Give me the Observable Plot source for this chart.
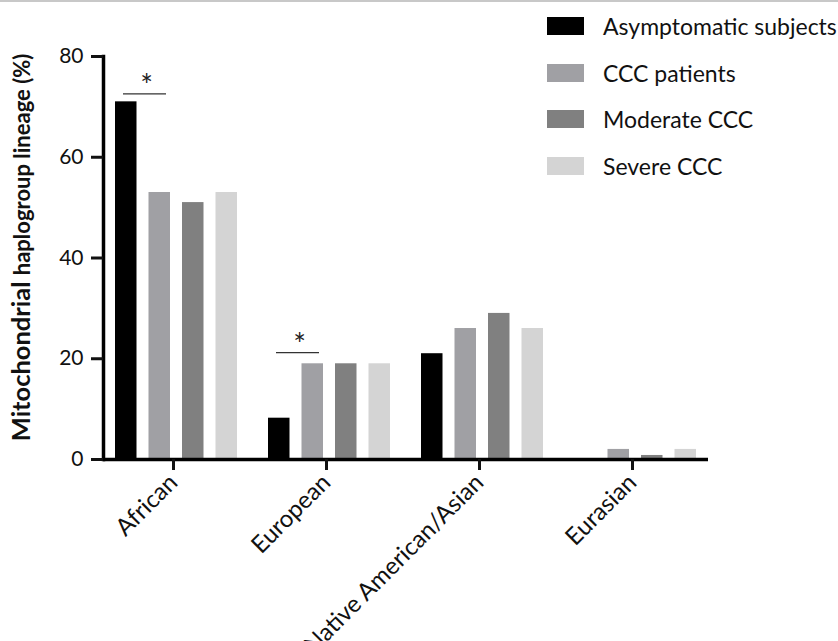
<!DOCTYPE html>
<html><head><meta charset="utf-8">
<script src="https://cdn.jsdelivr.net/npm/d3@7"></script>
<script src="https://cdn.jsdelivr.net/npm/@observablehq/plot@0.6"></script>
<style>
body{margin:0;background:#fff;font-family:Lato, sans-serif;}
#wrap{position:relative;width:838px;height:641px;overflow:hidden;}
#topline{position:absolute;left:0;top:0;width:838px;height:2px;background:#c8c8c8;}
#legend{position:absolute;left:547px;top:17px;}
.row{display:flex;align-items:center;height:18px;margin-bottom:28.7px;}
.sw{width:37px;height:18px;margin-right:19px;flex:none;}
.lab{font-size:23px;color:#111;white-space:nowrap;line-height:18px;}
#chart{position:absolute;left:0;top:0;}
</style></head><body><div id="wrap"><div id="chart"></div><div id="topline"></div><div id="legend"></div></div>
<script>
const categories = ["African", "European", "Native American/Asian", "Eurasian"];
const series = ["Asymptomatic subjects", "CCC patients", "Moderate CCC", "Severe CCC"];
const asymptomatic = [71, 8.2, 21, 0];
const cccPatients = [53, 19, 26, 2];
const moderateCCC = [51, 19, 29, 0.8];
const severeCCC = [53, 19, 26, 2];
const colors = ["#000000", "#a0a0a4", "#808080", "#d4d4d4"];
const yTicks = [0, 20, 40, 60, 80];
const sigCategories = ["African", "European"];
const sigLevels = [72.6, 21.2];
const sigLabels = ["*", "*"];
const yTitleMain = "Mitochondrial ";
const yTitleRest = "haplogroup lineage (%)";

const seriesValues = [asymptomatic, cccPatients, moderateCCC, severeCCC];
const rows = series.flatMap((s, i) => categories.map((c, j) => ({series: s, cat: c, value: seriesValues[i][j]})));
const sig = sigCategories.map((c, i) => ({cat: c, y: sigLevels[i], label: sigLabels[i]}));

const barW = 21.5, barStep = 33.5, groupW = 122;

const plot = Plot.plot({
  width: 838, height: 641,
  marginTop: 56, marginBottom: 182, marginLeft: 103, marginRight: 130,
  style: {fontFamily: "Lato, sans-serif", color: "#111", background: "transparent", overflow: "visible"},
  x: {type: "band", domain: categories, paddingInner: 0.204, paddingOuter: 0.075, label: null},
  y: {domain: [0, 80], label: null},
  marks: [
    ...series.map((s, i) => Plot.barY(rows.filter(d => d.series === s), {
      x: "cat", y: "value", fill: colors[i],
      insetLeft: barStep * i, insetRight: groupW - barW - barStep * i
    })),
    Plot.ruleY([0], {stroke: "#000", strokeWidth: 3.5}),
    Plot.frame({anchor: "left", stroke: "#000", strokeWidth: 3.5}),
    Plot.axisY({ticks: yTicks, tickSize: 12, tickPadding: 8, strokeWidth: 3, fontSize: 21, label: null}),
    Plot.axisX({tickSize: 11, strokeWidth: 3, tickRotate: -45, fontSize: 24, tickPadding: 8, dx: -3, label: null}),
    Plot.ruleY(sig, {x1: "cat", x2: "cat", y: "y", insetLeft: 8, insetRight: 71, stroke: "#333", strokeWidth: 1.2}),
    Plot.text(sig, {x: "cat", y: "y", text: "label", dx: -30, dy: -7, fontSize: 30, fill: "#222"})
  ]
});

const yS = plot.scale("y");
const cy = (yS.apply(0) + yS.apply(80)) / 2 - 10;
const t = d3.select(plot).append("text")
  .attr("transform", `translate(30,${cy}) rotate(-90)`)
  .attr("text-anchor", "middle")
  .attr("font-weight", "bold")
  .attr("font-family", "Lato, sans-serif")
  .attr("fill", "#111");
t.append("tspan").attr("font-size", 25.5).text(yTitleMain);
t.append("tspan").attr("font-size", 22).text(yTitleRest);

document.getElementById("chart").appendChild(plot);

const legend = d3.select("#legend");
series.forEach((s, i) => {
  const row = legend.append("div").attr("class", "row");
  row.append("div").attr("class", "sw").style("background", colors[i]);
  row.append("div").attr("class", "lab").text(s);
});
</script>
</body></html>
